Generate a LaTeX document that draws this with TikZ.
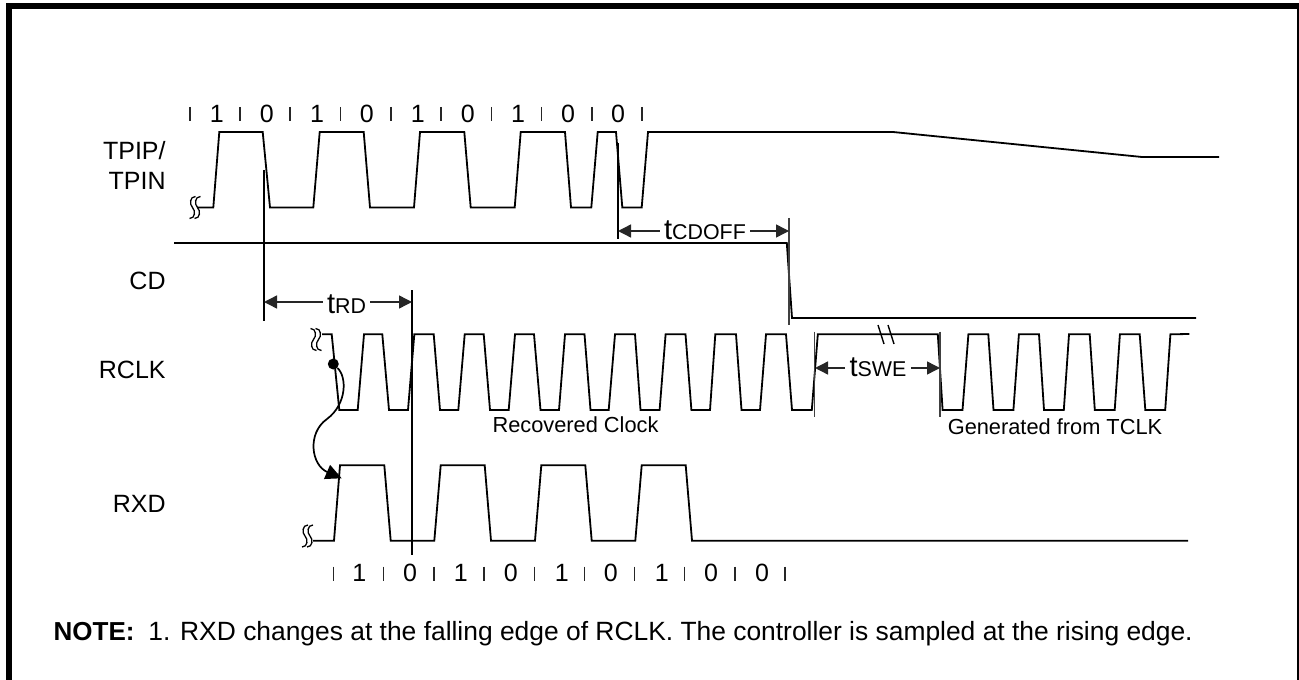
\documentclass[tikz,border=0pt]{standalone}
\usepackage{fontspec}
\setmainfont{Liberation Sans}
\usetikzlibrary{arrows.meta,positioning}
\newcommand{\tlab}[1]{{\fontsize{14.5}{15}\selectfont t}{\fontsize{10.7}{15}\selectfont #1}}

\begin{document}
\begin{tikzpicture}[
    x=0.5pt, y=-0.5pt,
    wave/.style={draw, line width=0.9pt},
    cursor/.style={draw, line width=0.9pt},
    thincursor/.style={draw, line width=0.6pt, black!75},
    tickmark/.style={draw, line width=0.6pt, black!85},
    bit/.style={font=\fontsize{12.5}{15}\selectfont, inner sep=0pt},
    sig/.style={font=\fontsize{12.5}{15}\selectfont, inner sep=0pt, anchor=base east},
    caption/.style={font=\fontsize{10.9}{13}\selectfont, inner sep=0pt},
    notetxt/.style={font=\fontsize{13.2}{15}\selectfont, inner sep=0pt, anchor=base west},
    timelab/.style={inner sep=0pt, inner xsep=2pt, anchor=base},
    arr/.style={-{Triangle[length=6.5pt,width=6.5pt]}, line width=0.7pt, black!85},
    brk/.pic={\draw[line width=0.65pt] (0.5,-11) .. controls (-5.5,-11) and (-5.5,-3) .. (-2.5,0) .. controls (0.5,3) and (0.5,11) .. (-5.5,11);
        \draw[line width=0.65pt] (5.5,-11) .. controls (-0.5,-11) and (-0.5,-3) .. (2.5,0) .. controls (5.5,3) and (5.5,11) .. (-0.5,11);}
]
\useasboundingbox (0,0) rectangle (1299,679);
\draw[line width=3pt] (9,690) -- (9,6) -- (1300,6) -- (1300,690);

% signal names
\node[sig, anchor=east, align=right] (tpip) at (166,165) {TPIP/\\TPIN};
\node[sig] (cd) at (166,289) {CD};
\node[sig] (rclk) at (166,378) {RCLK};
\node[sig] (rxd) at (166,512) {RXD};

% bit rows
\foreach \x in {190,240,290,340.7,391,441,491.7,541.7,592,642}
    \draw[tickmark] (\x,107) -- (\x,120.7);
\foreach \x/\b [count=\i] in {216.7/1,266.7/0,317/1,366.7/0,417.7/1,467.7/0,518/1,568/0,618/0}
    \node[bit] (top\i) at (\x,113.5) {\b};
\foreach \x in {333.3,383.3,434,484,534.3,584.3,634.7,684.7,735,785}
    \draw[tickmark] (\x,566.7) -- (\x,580.7);
\foreach \x/\b [count=\i] in {359.3/1,410/0,460.7/1,510.7/0,561.7/1,610.7/0,661.7/1,711/0,762/0}
    \node[bit] (bot\i) at (\x,573) {\b};

% waves
\draw[wave] (197,207.5) -- (213.3,207.5) -- (219.3,132) -- (262.7,132) -- (270,207.5) -- (313.3,207.5) -- (319.7,132) -- (363.7,132) -- (370,207.5) -- (414,207.5) -- (420,132) -- (464.3,132) -- (470.7,207.5) -- (514.7,207.5) -- (520.7,132) -- (565,132) -- (571,207.5) -- (591.3,207.5) -- (597.7,132) -- (616,132) -- (622.3,207.5) -- (641.7,207.5) -- (648,132) -- (893,132) -- (1142,157) -- (1219,157);
\draw[wave] (174,243) -- (786.8,243) -- (792,318) -- (1196,318);
\draw[wave] (322,334.3) -- (331.7,334.3) -- (339.3,410) -- (357.7,410) -- (364,334.3) -- (382.3,334.3) -- (389,410) -- (408,410) -- (414.3,334.3) -- (433.7,334.3) -- (440,410) -- (458.3,410) -- (464.7,334.3) -- (483.7,334.3) -- (490,410) -- (508.7,410) -- (515,334.3) -- (534,334.3) -- (540.5,410) -- (559,410) -- (565,334.3) -- (584.5,334.3) -- (590.5,410) -- (608.7,410) -- (615,334.3) -- (635,334.3) -- (640.5,410) -- (659.6,410) -- (665.6,334.3) -- (685.5,334.3) -- (691.4,410) -- (710,410) -- (715.3,334.3) -- (736,334.3) -- (741.5,410) -- (760,410) -- (766,334.3) -- (786,334.3) -- (792,410) -- (811.8,410) -- (817.8,334.3) -- (937.8,334.3) -- (942.6,410) -- (962.5,410) -- (968.4,334.3) -- (988.3,334.3) -- (993.5,410) -- (1013.4,410) -- (1018.9,334.3) -- (1039,334.3) -- (1044,410) -- (1063.8,410) -- (1069,334.3) -- (1089.7,334.3) -- (1094.8,410) -- (1114.7,410) -- (1119.9,334.3) -- (1139.7,334.3) -- (1145.3,410) -- (1165.2,410) -- (1170.4,334.3) -- (1189.4,334);
\draw[wave] (313,540.7) -- (334,540.7) -- (340,465.3) -- (384.3,465.3) -- (390.7,540.7) -- (434.3,540.7) -- (440.7,465.3) -- (484.7,465.3) -- (491,540.7) -- (535,540.7) -- (541.3,465.3) -- (585.3,465.3) -- (591.7,540.7) -- (635.3,540.7) -- (641.7,465.3) -- (685.7,465.3) -- (692,540.7) -- (1188,540.7);

% line breaks
\pic at (195,207.5) {brk};
\pic[xscale=-1] at (316,339.5) {brk};
\pic at (307.5,536) {brk};
\draw[line width=0.7pt] (878,325) -- (884,344);
\draw[line width=0.7pt] (888,325) -- (894,344);

% cursors
\draw[cursor] (264,170) -- (264,321);
\draw[cursor] (412,290) -- (412,555);
\draw[cursor] (618,143) -- (618,239);
\draw[thincursor] (789,218) -- (789,325);
\draw[thincursor] (814.6,331.7) -- (814.6,417);
\draw[thincursor] (940,331.7) -- (940,417);

% timing labels
\coordinate (trdL) at (264,302);
\coordinate (trdR) at (412,302);
\node[timelab] (trd) at (346.5,313) {\tlab{RD}};
\draw[arr] (trd.west |- trdL) -- (trdL);
\draw[arr] (trd.east |- trdR) -- (trdR);
\coordinate (tcdL) at (618,231);
\coordinate (tcdR) at (789,231);
\node[timelab] (tcd) at (705,239) {\tlab{CDOFF}};
\draw[arr] (tcd.west |- tcdL) -- (tcdL);
\draw[arr] (tcd.east |- tcdR) -- (tcdR);
\coordinate (tswL) at (815,368);
\coordinate (tswR) at (940,368);
\node[timelab] (tsw) at (878,376.7) {\tlab{SWE}};
\draw[arr] (tsw.west |- tswL) -- (tswL);
\draw[arr] (tsw.east |- tswR) -- (tswR);

% sampling arrow
\node[circle, fill, inner sep=0pt, minimum size=5.5pt] (clkdot) at (333.3,364) {};
\coordinate (rxdedge) at (341.7,478.3);
\draw[-{Triangle[length=8pt,width=7.5pt]}, line width=0.85pt] (clkdot) .. controls (347,377) and (347,404) .. (327,419) .. controls (307,433) and (311,465) .. (rxdedge);

% captions and note
\node[caption] (rec) at (575.5,425) {Recovered Clock};
\node[caption] (gen) at (1055,427) {Generated from TCLK};
\node[notetxt] (body) at (148,640.7) {1. RXD changes at the falling edge of RCLK. The controller is sampled at the rising edge.};
\node[notetxt, font=\fontsize{13}{15}\selectfont\bfseries, anchor=base east] (notehd) at (135,640.7) {NOTE:};
\end{tikzpicture}
\end{document}
